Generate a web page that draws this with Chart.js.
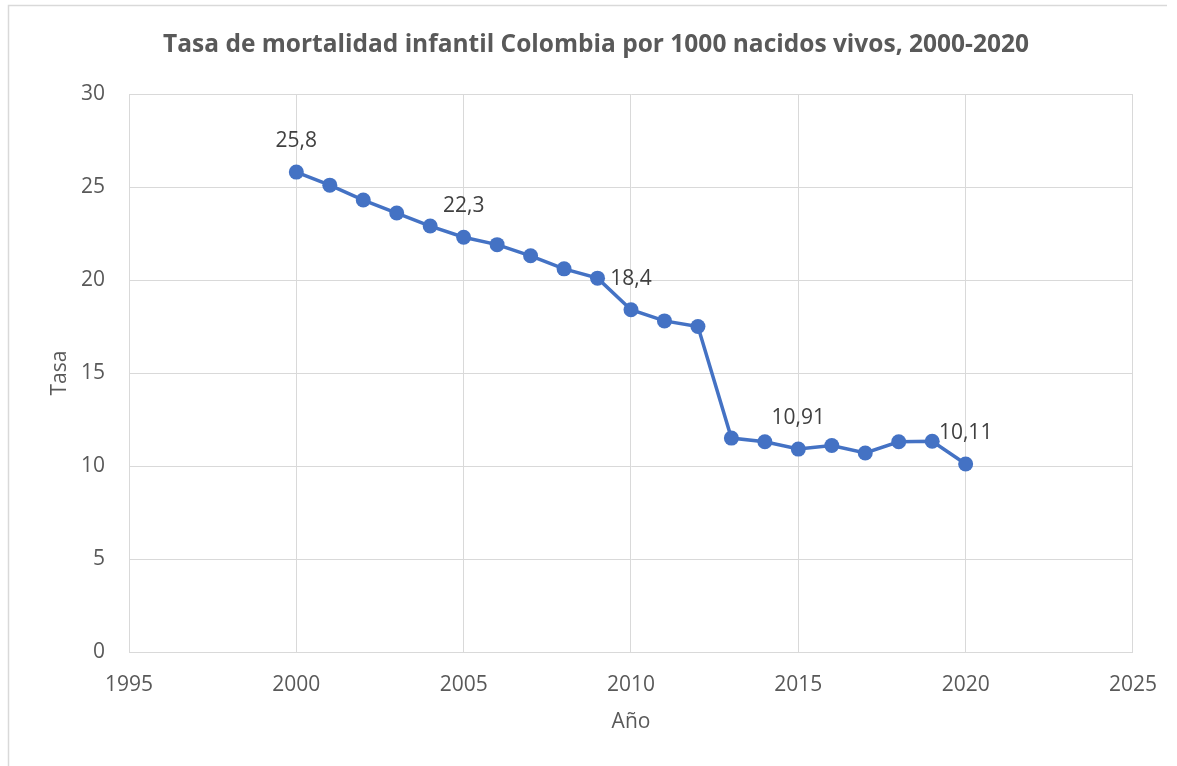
<!doctype html>
<html lang="es">
  <head>
    <meta charset="utf-8">
    <title>Tasa de mortalidad infantil Colombia</title>
    <style>
      * { margin: 0; padding: 0; }
      body { background: #fff; width: 1177px; height: 766px; overflow: hidden; }
      .chartBox {
        position: absolute;
        left: 0;
        top: 0;
        width: 1177px;
        height: 766px;
      }
    </style>
  </head>
  <body>
    <div class="chartBox">
      <canvas id="myChart" width="1177" height="766"></canvas>
    </div>

    <script src="https://cdn.jsdelivr.net/npm/chart.js@4.4.0/dist/chart.umd.min.js"></script>

    <script>
    // data block
    const years = [2000, 2001, 2002, 2003, 2004, 2005, 2006, 2007, 2008, 2009, 2010,
                   2011, 2012, 2013, 2014, 2015, 2016, 2017, 2018, 2019, 2020];
    const rates = [25.8, 25.1, 24.3, 23.6, 22.9, 22.3, 21.9, 21.3, 20.6, 20.1, 18.4,
                   17.8, 17.5, 11.5, 11.3, 10.91, 11.1, 10.7, 11.3, 11.33, 10.11];
    const labeledYears = [2000, 2005, 2010, 2015, 2020];
    const xTicks = [1995, 2000, 2005, 2010, 2015, 2020, 2025];
    const yTicks = [0, 5, 10, 15, 20, 25, 30];
    const chartTitle = 'Tasa de mortalidad infantil Colombia por 1000 nacidos vivos, 2000-2020';

    const FONT = '"Open Sans", "Noto Sans", sans-serif';
    const GREY = '#595959';

    // background, outer frame and title like the spreadsheet chart box
    const frame = {
      id: 'frame',
      beforeDraw: (chart) => {
        const { ctx } = chart;
        ctx.save();
        ctx.fillStyle = '#fff';
        ctx.fillRect(0, 0, chart.width, chart.height);
        ctx.strokeStyle = '#d9d9d9';
        ctx.lineWidth = 1.5;
        ctx.beginPath();
        ctx.moveTo(8.5, chart.height);
        ctx.lineTo(8.5, 5.5);
        ctx.lineTo(1167, 5.5);
        ctx.stroke();

        ctx.font = 'bold 24.5px ' + FONT;
        ctx.fillStyle = GREY;
        ctx.textAlign = 'center';
        ctx.textBaseline = 'middle';
        ctx.fillText(chartTitle, 596, 45);
        ctx.restore();
      }
    };

    // value labels above selected points (decimal comma)
    const valueLabels = {
      id: 'valueLabels',
      afterDatasetsDraw: (chart) => {
        const { ctx } = chart;
        const meta = chart.getDatasetMeta(0);
        ctx.save();
        ctx.font = '21px ' + FONT;
        ctx.fillStyle = '#404040';
        ctx.textAlign = 'center';
        ctx.textBaseline = 'middle';
        meta.data.forEach((pt, i) => {
          if (!labeledYears.includes(years[i])) return;
          const txt = String(rates[i]).replace('.', ',');
          ctx.fillText(txt, pt.x, pt.y - 31);
        });
        ctx.restore();
      }
    };

    // config block
    const config = {
      type: 'line',
      data: {
        datasets: [{
          label: 'Tasa',
          data: years.map((y, i) => ({ x: y, y: rates[i] })),
          borderColor: '#4472C4',
          backgroundColor: '#4472C4',
          borderWidth: 3.5,
          pointRadius: 7.5,
          pointHoverRadius: 7.5,
          pointBorderWidth: 0,
          tension: 0
        }]
      },
      options: {
        responsive: false,
        animation: false,
        layout: { padding: { left: 0, right: 44, top: 94, bottom: 0 } },
        plugins: {
          legend: { display: false },
          tooltip: { enabled: false },
          title: { display: false }
        },
        scales: {
          x: {
            type: 'linear',
            min: 1995,
            max: 2025,
            afterBuildTicks: (scale) => { scale.ticks = xTicks.map(v => ({ value: v })); },
            afterFit: (scale) => { scale.height = 114; },
            grid: { color: '#d9d9d9', lineWidth: 1, drawTicks: false },
            border: { display: true, color: '#d9d9d9' },
            ticks: {
              color: GREY,
              font: { family: FONT, size: 21 },
              padding: 20,
              maxRotation: 0,
              callback: (v) => String(v)
            },
            title: {
              display: true,
              text: 'Año',
              color: GREY,
              font: { family: FONT, size: 21 },
              padding: { top: 0, bottom: 31 }
            }
          },
          y: {
            min: 0,
            max: 30,
            afterBuildTicks: (scale) => { scale.ticks = yTicks.map(v => ({ value: v })); },
            afterFit: (scale) => { scale.width = 129; },
            grid: { color: '#d9d9d9', lineWidth: 1, drawTicks: false },
            border: { display: true, color: '#d9d9d9' },
            ticks: {
              color: GREY,
              font: { family: FONT, size: 21 },
              padding: 24,
              callback: (v) => String(v)
            },
            title: {
              display: true,
              text: 'Tasa',
              color: GREY,
              font: { family: FONT, size: 21 },
              padding: { top: 47, bottom: 0 }
            }
          }
        }
      },
      plugins: [frame, valueLabels]
    };

    // init render block
    const myChart = new Chart(
      document.getElementById('myChart'),
      config
    );
    </script>
  </body>
</html>
